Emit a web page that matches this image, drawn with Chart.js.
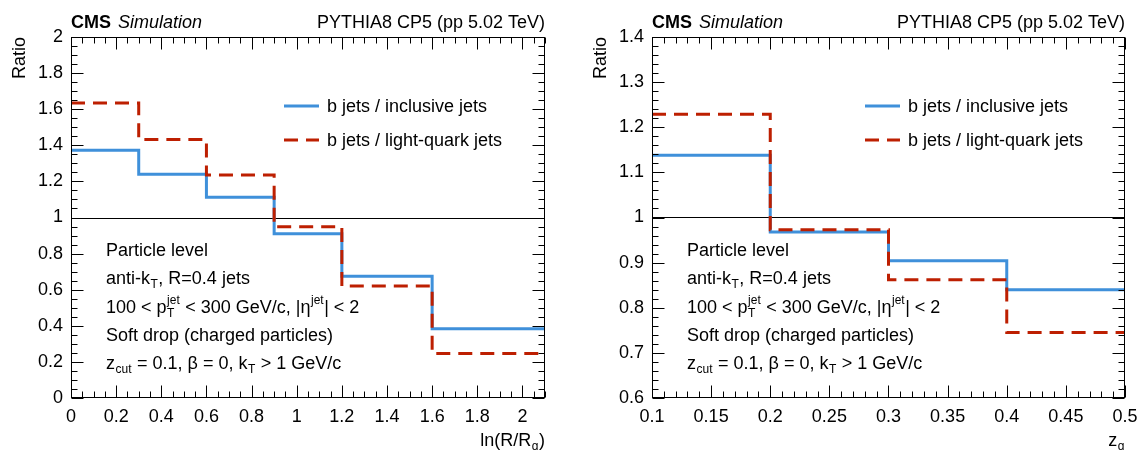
<!DOCTYPE html>
<html>
<head>
<meta charset="utf-8">
<script src="https://cdn.jsdelivr.net/npm/chart.js@4.4.1/dist/chart.umd.min.js"></script>
<style>
  body { margin: 0; background: #fff; width: 1139px; height: 450px; overflow: hidden; position: relative; }
  .panel { position: absolute; top: 0; height: 450px; }
  #panelL { left: 0; width: 570px; }
  #panelR { left: 570px; width: 569px; }
</style>
</head>
<body>
<div class="panel" id="panelL"><canvas id="canvasL"></canvas></div>
<div class="panel" id="panelR"><canvas id="canvasR"></canvas></div>
<script>
// left panel - ln(R/Rg), bin edges and ratios
const rgEdges = [0, 0.3, 0.6, 0.9, 1.2, 1.6, 2.1];
const rgInclusive = [1.372, 1.240, 1.112, 0.910, 0.675, 0.384];
const rgLight = [1.635, 1.432, 1.236, 0.949, 0.620, 0.246];
const rgXTicks = [0, 0.2, 0.4, 0.6, 0.8, 1, 1.2, 1.4, 1.6, 1.8, 2];
const rgYTicks = [0, 0.2, 0.4, 0.6, 0.8, 1, 1.2, 1.4, 1.6, 1.8, 2];

// right panel - zg
const zgEdges = [0.1, 0.2, 0.3, 0.4, 0.5];
const zgInclusive = [1.138, 0.968, 0.904, 0.840];
const zgLight = [1.229, 0.973, 0.862, 0.745];
const zgXTicks = [0.1, 0.15, 0.2, 0.25, 0.3, 0.35, 0.4, 0.45, 0.5];
const zgYTicks = [0.6, 0.7, 0.8, 0.9, 1, 1.1, 1.2, 1.3, 1.4];

const seriesNames = ["b jets / inclusive jets", "b jets / light-quark jets"];
const unityLine = 1;

const FONT = '"Liberation Sans", Arial, Helvetica, sans-serif';
const BLUE = "#3f90da";
const RED = "#bd1f01";

// info text, parts are plain strings or {sup, sub} for scripts
const infoLines = [
  ["Particle level"],
  ["anti-k", { sub: "T" }, ", R=0.4 jets"],
  ["100 < p", { sup: "jet", sub: "T" }, " < 300 GeV/c, |\u03b7", { sup: "jet" }, "| < 2"],
  ["Soft drop (charged particles)"],
  ["z", { sub: "cut" }, " = 0.1, \u03b2 = 0, k", { sub: "T" }, " > 1 GeV/c"],
];

// step histogram -> points for stepped line
function histPoints(edges, vals) {
  const pts = vals.map((v, i) => ({ x: edges[i], y: v }));
  pts.push({ x: edges[edges.length - 1], y: vals[vals.length - 1] });
  return pts;
}

function richText(ctx, x, y, parts, align) {
  const big = "18px " + FONT;
  const small = "12px " + FONT;
  const widths = parts.map((p) => {
    if (typeof p === "string") {
      ctx.font = big;
      return ctx.measureText(p).width;
    }
    ctx.font = small;
    const a = p.sup ? ctx.measureText(p.sup).width : 0;
    const b = p.sub ? ctx.measureText(p.sub).width : 0;
    return Math.max(a, b) + 1;
  });
  const total = widths.reduce((s, w) => s + w, 0);
  let cx = align === "right" ? x - total : x;
  ctx.textAlign = "left";
  ctx.textBaseline = "alphabetic";
  parts.forEach((p, i) => {
    if (typeof p === "string") {
      ctx.font = big;
      ctx.fillText(p, cx, y);
    } else {
      ctx.font = small;
      if (p.sup) ctx.fillText(p.sup, cx + 0.5, y - 9);
      if (p.sub) ctx.fillText(p.sub, cx + 0.5, y + 4);
    }
    cx += widths[i];
  });
}

// ROOT style frame: box, inner ticks on all sides, labels, legend
const rootFrame = {
  id: "rootFrame",
  beforeDatasetsDraw(chart) {
    const { ctx, chartArea: a, scales } = chart;
    const py = Math.round(scales.y.getPixelForValue(unityLine)) + 0.5;
    ctx.save();
    ctx.strokeStyle = "#000";
    ctx.lineWidth = 1;
    ctx.beginPath();
    ctx.moveTo(a.left, py);
    ctx.lineTo(a.right, py);
    ctx.stroke();
    ctx.restore();
  },
  afterDraw(chart, args, opts) {
    const { ctx, chartArea: a, scales } = chart;
    const L = Math.round(a.left) + 0.5, R = Math.round(a.right) - 0.5;
    const T = Math.round(a.top) + 0.5, B = Math.round(a.bottom) - 0.5;
    ctx.save();
    ctx.strokeStyle = "#000";
    ctx.lineWidth = 1;
    ctx.strokeRect(L, T, R - L, B - T);

    function tickList(ticks, n, min, max) {
      const step = (ticks[1] - ticks[0]) / n;
      const out = [];
      const i0 = Math.ceil((min - ticks[0]) / step - 1e-6);
      const i1 = Math.floor((max - ticks[0]) / step + 1e-6);
      for (let i = i0; i <= i1; i++) {
        out.push({ v: ticks[0] + i * step, major: ((i % n) + n) % n === 0 });
      }
      return out;
    }
    ctx.beginPath();
    tickList(opts.xTicks, opts.xMinor, scales.x.min, scales.x.max).forEach((t) => {
      const px = Math.round(scales.x.getPixelForValue(t.v)) + 0.5;
      const len = t.major ? 12 : 6;
      ctx.moveTo(px, B); ctx.lineTo(px, B - len);
      ctx.moveTo(px, T); ctx.lineTo(px, T + len);
    });
    tickList(opts.yTicks, opts.yMinor, scales.y.min, scales.y.max).forEach((t) => {
      const py = Math.round(scales.y.getPixelForValue(t.v)) + 0.5;
      const len = t.major ? 12 : 6;
      ctx.moveTo(L, py); ctx.lineTo(L + len, py);
      ctx.moveTo(R, py); ctx.lineTo(R - len, py);
    });
    ctx.stroke();

    ctx.fillStyle = "#000";
    // header
    ctx.textBaseline = "alphabetic";
    ctx.textAlign = "left";
    ctx.font = "bold 18px " + FONT;
    ctx.fillText("CMS", a.left, a.top - 9);
    const cmsW = ctx.measureText("CMS").width;
    ctx.font = "italic 18px " + FONT;
    ctx.fillText("Simulation", a.left + cmsW + 7, a.top - 9);
    ctx.font = "18px " + FONT;
    ctx.textAlign = "right";
    ctx.fillText("PYTHIA8 CP5 (pp 5.02 TeV)", a.right, a.top - 9);

    // axis titles
    ctx.save();
    ctx.translate(a.left - 46, a.top);
    ctx.rotate(-Math.PI / 2);
    ctx.textAlign = "right";
    ctx.font = "18px " + FONT;
    ctx.fillText("Ratio", 0, 0);
    ctx.restore();
    richText(ctx, a.right, 446, opts.xTitle, "right");

    // legend
    chart.data.datasets.forEach((ds, i) => {
      const ry = a.top + 69 + i * 34;
      ctx.save();
      ctx.strokeStyle = ds.borderColor;
      ctx.lineWidth = ds.borderWidth;
      ctx.setLineDash(ds.borderDash || []);
      ctx.beginPath();
      ctx.moveTo(a.left + 213, ry);
      ctx.lineTo(a.left + 248, ry);
      ctx.stroke();
      ctx.restore();
      ctx.font = "18px " + FONT;
      ctx.textAlign = "left";
      ctx.fillText(ds.label, a.left + 256, ry + 6);
    });

    // info block
    infoLines.forEach((line, i) => {
      richText(ctx, a.left + 35, a.top + 219 + i * 28.3, line, "left");
    });
    ctx.restore();
  },
};

function makePanel(canvasId, edges, incl, light, xTicks, yTicks, frameOpts, yWidth, padRight) {
  const tickFont = { family: FONT, size: 18 };
  return new Chart(document.getElementById(canvasId), {
    type: "line",
    data: {
      datasets: [
        {
          label: seriesNames[0],
          data: histPoints(edges, incl),
          stepped: "before",
          borderColor: BLUE,
          borderWidth: 3,
          pointRadius: 0,
          fill: false,
          order: 2,
        },
        {
          label: seriesNames[1],
          data: histPoints(edges, light),
          stepped: "before",
          borderColor: RED,
          borderWidth: 3,
          borderDash: [14, 8],
          pointRadius: 0,
          fill: false,
          order: 1,
        },
      ],
    },
    options: {
      animation: false,
      responsive: true,
      maintainAspectRatio: false,
      devicePixelRatio: 1,
      layout: { padding: { left: 0, top: 37, right: padRight, bottom: 0 } },
      plugins: {
        legend: { display: false },
        tooltip: { enabled: false },
        rootFrame: frameOpts,
      },
      scales: {
        x: {
          type: "linear",
          min: edges[0],
          max: edges[edges.length - 1],
          grid: { drawOnChartArea: false, drawTicks: false },
          border: { display: false },
          afterBuildTicks: (s) => { s.ticks = xTicks.map((v) => ({ value: v })); },
          afterFit: (s) => { s.height = 52; s.paddingLeft = 0; s.paddingRight = 0; },
          ticks: {
            font: tickFont, color: "#000", padding: 8,
            maxRotation: 0, autoSkip: false,
            callback: (v) => String(v),
          },
        },
        y: {
          type: "linear",
          min: yTicks[0],
          max: yTicks[yTicks.length - 1],
          grid: { drawOnChartArea: false, drawTicks: false },
          border: { display: false },
          afterBuildTicks: (s) => { s.ticks = yTicks.map((v) => ({ value: v })); },
          afterFit: (s) => { s.width = yWidth; s.paddingTop = 0; s.paddingBottom = 0; },
          ticks: {
            font: tickFont, color: "#000", padding: 8,
            callback: (v) => String(v),
          },
        },
      },
    },
    plugins: [rootFrame],
  });
}

makePanel("canvasL", rgEdges, rgInclusive, rgLight, rgXTicks, rgYTicks,
  { xTicks: rgXTicks, xMinor: 4, yTicks: rgYTicks, yMinor: 4, xTitle: ["ln(R/R", { sub: "g" }, ")"] },
  71, 25);

makePanel("canvasR", zgEdges, zgInclusive, zgLight, zgXTicks, zgYTicks,
  { xTicks: zgXTicks, xMinor: 5, yTicks: zgYTicks, yMinor: 5, xTitle: ["z", { sub: "g" }] },
  82, 14);
</script>
</body>
</html>
